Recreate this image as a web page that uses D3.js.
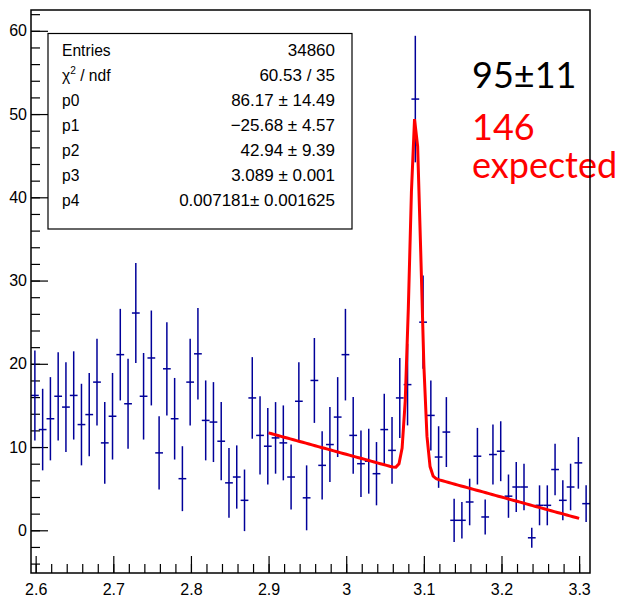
<!DOCTYPE html>
<html>
<head>
<meta charset="utf-8">
<script src="https://cdn.jsdelivr.net/npm/d3@7/dist/d3.min.js"></script>
<style>
  html, body { margin: 0; padding: 0; background: #fff; }
  svg { display: block; }
</style>
</head>
<body>
<svg id="chart" width="629" height="602"></svg>
<script>
// ---- data ----
const binLow = 2.594;
const binWidth = 0.01;
const counts = [
  16.2, 12.1, 13.4, 16.1, 14.8, 16.2, 12.7, 13.9, 17.8, 10.5,
  13.7, 21.1, 15.2, 26.1, 16.1, 20.7, 9.3, 19.4, 13.4, 6.2,
  17.8, 21.2, 13.2, 13.0, 10.7, 5.7, 6.4, 3.6, 15.9, 11.4,
  10.1, 11.1, 10.5, 6.4, 15.5, 3.9, 18.0, 7.8, 10.3, 13.6,
  21.1, 11.4, 8.0, 8.3, 6.8, 12.1, 9.6, 15.9, 17.5, 51.8,
  25.0, 13.8, 8.8, 11.8, 1.2, 1.2, 3.4, 8.9, 1.6, 9.1,
  9.5, 4.1, 5.2, 5.2, -0.9, 3.0, 3.0, 7.3, 3.6, 5.2,
  8.1, 3.2
];
const errors = [
  5.4, 4.9, 5.0, 5.3, 5.4, 5.3, 4.9, 5.0, 5.2, 4.9,
  5.2, 5.5, 5.4, 6.0, 5.2, 5.7, 4.4, 5.6, 4.9, 3.9,
  5.2, 5.5, 4.8, 4.8, 4.7, 4.2, 3.8, 3.7, 4.9, 4.7,
  4.6, 4.3, 4.5, 3.9, 4.7, 3.9, 5.1, 4.1, 4.5, 4.8,
  5.5, 4.6, 4.0, 3.9, 3.8, 4.3, 4.0, 4.8, 4.9, 7.6,
  5.6, 4.2, 3.7, 4.2, 2.6, 2.2, 2.8, 3.4, 2.1, 3.6,
  3.6, 2.6, 3.0, 2.8, 1.2, 2.4, 2.4, 3.1, 2.4, 2.8,
  3.1, 2.2
];
const xTicks = [2.6, 2.7, 2.8, 2.9, 3.0, 3.1, 3.2, 3.3];
const xTickLabels = ["2.6", "2.7", "2.8", "2.9", "3", "3.1", "3.2", "3.3"];
const yTicks = [0, 10, 20, 30, 40, 50, 60];
const fitParams = [86.17, -25.68, 42.94, 3.089, 0.007181];
const fitRange = [2.9, 3.3];
const fitPoints = 100;
const statLabels = ["Entries", "χ2 / ndf", "p0", "p1", "p2", "p3", "p4"];
const statValues = ["34860", "60.53 / 35", "86.17 ± 14.49", "−25.68 ± 4.57",
                    "42.94 ± 9.39", "3.089 ± 0.001", "0.007181± 0.001625"];
const annotations = [
  { text: "95±11", color: "#000000" },
  { text: "146", color: "#ff0000" },
  { text: "expected", color: "#ff0000" }
];

// ---- layout ----
const L = 31, R = 590, T = 10, B = 573;
const svg = d3.select("#chart");
const x = d3.scaleLinear().domain([2.594, 3.314]).range([L, R]);
const y = d3.scaleLinear().domain([-5.13, 62.5]).range([B, T]);
const font = "'Liberation Sans', Arial, Helvetica, sans-serif";

svg.append("rect").attr("width", 629).attr("height", 602).attr("fill", "#fff");

// axes: minor ticks
const yMinor = d3.range(-4, 63, 2);
svg.append("g").attr("transform", `translate(${L},0)`)
  .call(d3.axisLeft(y).tickValues(yMinor).tickSize(-9).tickFormat(""))
  .call(g => g.select(".domain").remove());
svg.append("g").attr("transform", `translate(${L},0)`)
  .call(d3.axisLeft(y).tickValues(yTicks).tickSize(-17).tickPadding(4).tickFormat(d3.format("d")))
  .call(g => g.select(".domain").remove())
  .call(g => g.selectAll("text").attr("font-family", font).attr("font-size", 16).attr("fill", "#000"));

const xMinor = d3.range(0, 36).map(i => +(2.6 + i * 0.02).toFixed(2)).filter(v => v <= 3.31);
svg.append("g").attr("transform", `translate(0,${B})`)
  .call(d3.axisBottom(x).tickValues(xMinor).tickSize(-9).tickFormat(""))
  .call(g => g.select(".domain").remove());
svg.append("g").attr("transform", `translate(0,${B})`)
  .call(d3.axisBottom(x).tickValues(xTicks).tickSize(-17).tickPadding(11)
        .tickFormat((d, i) => xTickLabels[i]))
  .call(g => g.select(".domain").remove())
  .call(g => g.selectAll("text").attr("font-family", font).attr("font-size", 16).attr("fill", "#000"));

svg.selectAll(".tick line").attr("stroke", "#000").attr("stroke-width", 1.2);

// ---- data error bars ----
const blue = "#000099";
const bins = counts.map((c, i) => ({
  lo: binLow + i * binWidth,
  hi: binLow + (i + 1) * binWidth,
  c: c, e: errors[i]
}));
const gData = svg.append("g");
gData.selectAll("line.v").data(bins).join("line").attr("class", "v")
  .attr("x1", d => x((d.lo + d.hi) / 2)).attr("x2", d => x((d.lo + d.hi) / 2))
  .attr("y1", d => y(d.c - d.e)).attr("y2", d => y(d.c + d.e))
  .attr("stroke", blue).attr("stroke-width", 1.5);
gData.selectAll("line.h").data(bins).join("line").attr("class", "h")
  .attr("x1", d => x(d.lo)).attr("x2", d => x(d.hi))
  .attr("y1", d => y(d.c)).attr("y2", d => y(d.c))
  .attr("stroke", blue).attr("stroke-width", 1.5);

// ---- fit curve (pol1 + gaus with the fitted parameters) ----
const [p0, p1, p2, p3, p4] = fitParams;
const fitX = d3.range(fitPoints + 1).map(i => fitRange[0] + (fitRange[1] - fitRange[0]) * i / fitPoints);
const fitData = fitX.map(v => [v, p0 + p1 * v + p2 * Math.exp(-0.5 * Math.pow((v - p3) / p4, 2))]);
svg.append("path").datum(fitData)
  .attr("d", d3.line().x(d => x(d[0])).y(d => y(d[1])))
  .attr("fill", "none").attr("stroke", "#ff0000").attr("stroke-width", 3);

// ---- stats box ----
const sb = { x0: 48, y0: 33.5, x1: 352, y1: 229 };
svg.append("rect").attr("x", sb.x0).attr("y", sb.y0)
  .attr("width", sb.x1 - sb.x0).attr("height", sb.y1 - sb.y0)
  .attr("fill", "#fff").attr("stroke", "#000").attr("stroke-width", 1.2);
const gs = svg.append("g").attr("font-family", font).attr("font-size", 17).attr("fill", "#000");
statLabels.forEach((lab, i) => {
  const t = gs.append("text").attr("transform", `translate(62,${56 + i * 25}) scale(0.92,1)`);
  if (lab.startsWith("χ2")) {
    t.append("tspan").text("χ");
    t.append("tspan").attr("font-size", 11).attr("dy", -7).text("2");
    t.append("tspan").attr("dy", 7).text(" / ndf");
  } else {
    t.text(lab);
  }
  gs.append("text").attr("x", 335).attr("y", 56 + i * 25)
    .attr("text-anchor", "end").text(statValues[i]);
});

// ---- annotations ----
const annY = [88, 140, 178];
annotations.forEach((a, i) => {
  svg.append("text").attr("x", 472).attr("y", annY[i])
    .attr("font-family", "Lato, 'Open Sans', sans-serif").attr("font-size", 36)
    .attr("fill", a.color).text(a.text);
});

// ---- frame ----
svg.append("rect").attr("x", L).attr("y", T).attr("width", R - L).attr("height", B - T)
  .attr("fill", "none").attr("stroke", "#000").attr("stroke-width", 1.5);
</script>
</body>
</html>
